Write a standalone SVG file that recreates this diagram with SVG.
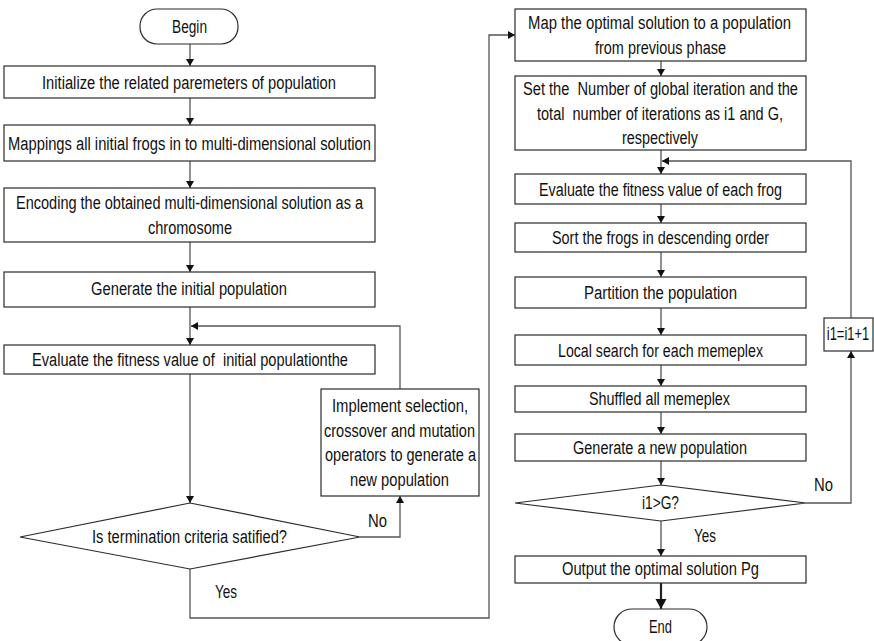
<svg xmlns="http://www.w3.org/2000/svg" width="874" height="641" viewBox="0 0 874 641">
  <defs>
    <style>
      .box { fill: #ffffff; stroke: #2b2b2b; stroke-width: 1.2; }
      .conn { fill: none; stroke: #555555; stroke-width: 1.3; }
      .thick { fill: none; stroke: #222222; stroke-width: 2.2; }
      text { font-family: "Liberation Sans", Arial, sans-serif; font-size: 18px; fill: #111111; text-anchor: middle; }
      .lbl { text-anchor: start; }
    </style>
    <marker id="arr" markerUnits="userSpaceOnUse" markerWidth="10" markerHeight="10" refX="7" refY="4" orient="auto">
      <path d="M0,0 L7,4 L0,8 Z" fill="#111111"/>
    </marker>
    <marker id="arrBig" markerUnits="userSpaceOnUse" markerWidth="14" markerHeight="14" refX="10" refY="5.5" orient="auto">
      <path d="M0,0 L10,5.5 L0,11 Z" fill="#111111"/>
    </marker>
  </defs>

  <!-- connectors -->
  <g id="connectors">
    <path class="conn" d="M190,44 V66" marker-end="url(#arr)"/>
    <path class="conn" d="M190,98 V125" marker-end="url(#arr)"/>
    <path class="conn" d="M190,161 V188" marker-end="url(#arr)"/>
    <path class="conn" d="M190,242 V272" marker-end="url(#arr)"/>
    <path class="conn" d="M190,307 V345" marker-end="url(#arr)"/>
    <path class="conn" d="M400,389 V326 H191" marker-end="url(#arr)"/>
    <path class="conn" d="M190,374 V503" marker-end="url(#arr)"/>
    <path class="conn" d="M360,537 H400 V496" marker-end="url(#arr)"/>
    <path class="conn" d="M190,569 V618 H489 V35 H515" marker-end="url(#arr)"/>

    <path class="conn" d="M661,61 V76" marker-end="url(#arr)"/>
    <path class="conn" d="M661,150 V174" marker-end="url(#arr)"/>
    <path class="conn" d="M851,318 V161 H662" marker-end="url(#arr)"/>
    <path class="conn" d="M661,204 V223" marker-end="url(#arr)"/>
    <path class="conn" d="M661,252 V277" marker-end="url(#arr)"/>
    <path class="conn" d="M661,308 V335" marker-end="url(#arr)"/>
    <path class="conn" d="M661,365 V386" marker-end="url(#arr)"/>
    <path class="conn" d="M661,412 V434" marker-end="url(#arr)"/>
    <path class="conn" d="M661,461 V485" marker-end="url(#arr)"/>
    <path class="conn" d="M661,521 V556" marker-end="url(#arr)"/>
    <path class="conn" d="M806,503 H851 V351" marker-end="url(#arr)"/>
    <path class="thick" d="M661,583 V609" marker-end="url(#arrBig)"/>

    <text class="lbl" x="368" y="527" textLength="19" lengthAdjust="spacingAndGlyphs">No</text>
    <text class="lbl" x="215" y="598" textLength="22" lengthAdjust="spacingAndGlyphs">Yes</text>
    <text class="lbl" x="814" y="491" textLength="19" lengthAdjust="spacingAndGlyphs">No</text>
    <text class="lbl" x="694" y="542" textLength="22" lengthAdjust="spacingAndGlyphs">Yes</text>
  </g>

  <!-- left column: GA phase -->
  <g id="begin">
    <rect class="box" x="140" y="9" width="98" height="35" rx="17" ry="17"/>
    <text x="189.5" y="33" textLength="35" lengthAdjust="spacingAndGlyphs">Begin</text>
  </g>
  <g id="init-params">
    <rect class="box" x="4" y="66" width="371" height="32"/>
    <text x="189" y="89" textLength="294" lengthAdjust="spacingAndGlyphs">Initialize the related paremeters of population</text>
  </g>
  <g id="map-frogs">
    <rect class="box" x="4" y="125" width="371" height="36"/>
    <text x="189.5" y="149.5" textLength="363" lengthAdjust="spacingAndGlyphs">Mappings all initial frogs in to multi-dimensional solution</text>
  </g>
  <g id="encode">
    <rect class="box" x="4" y="188" width="371" height="54"/>
    <text x="189.5" y="209" textLength="347" lengthAdjust="spacingAndGlyphs">Encoding the obtained multi-dimensional solution as a</text>
    <text x="190" y="234" textLength="84" lengthAdjust="spacingAndGlyphs">chromosome</text>
  </g>
  <g id="gen-initial">
    <rect class="box" x="4" y="272" width="371" height="35"/>
    <text x="189" y="295" textLength="196" lengthAdjust="spacingAndGlyphs">Generate the initial population</text>
  </g>
  <g id="eval-initial">
    <rect class="box" x="4" y="345" width="371" height="29"/>
    <text x="190" y="366" textLength="316" lengthAdjust="spacingAndGlyphs" xml:space="preserve">Evaluate the fitness value of  initial populationthe</text>
  </g>
  <g id="termination">
    <polygon class="box" points="190,503 360,537 190,569 20,537"/>
    <text x="189.5" y="543" textLength="195" lengthAdjust="spacingAndGlyphs">Is termination criteria satified?</text>
  </g>
  <g id="ga-operators">
    <rect class="box" x="321" y="389" width="158" height="107"/>
    <text x="400" y="412" textLength="136" lengthAdjust="spacingAndGlyphs">Implement selection,</text>
    <text x="399.5" y="437" textLength="151" lengthAdjust="spacingAndGlyphs">crossover and mutation</text>
    <text x="400.5" y="461" textLength="151" lengthAdjust="spacingAndGlyphs">operators to generate a</text>
    <text x="399.5" y="486" textLength="99" lengthAdjust="spacingAndGlyphs">new population</text>
  </g>

  <!-- right column: SFLA phase -->
  <g id="map-optimal">
    <rect class="box" x="515" y="9" width="291" height="52"/>
    <text x="659.5" y="29" textLength="263" lengthAdjust="spacingAndGlyphs">Map the optimal solution to a population</text>
    <text x="660.5" y="54" textLength="131" lengthAdjust="spacingAndGlyphs">from previous phase</text>
  </g>
  <g id="set-iterations">
    <rect class="box" x="515" y="76" width="291" height="74"/>
    <text x="660.5" y="95" textLength="275" lengthAdjust="spacingAndGlyphs" xml:space="preserve">Set the  Number of global iteration and the</text>
    <text x="660" y="120" textLength="246" lengthAdjust="spacingAndGlyphs" xml:space="preserve">total  number of iterations as i1 and G,</text>
    <text x="660" y="144" textLength="76" lengthAdjust="spacingAndGlyphs">respectively</text>
  </g>
  <g id="eval-frogs">
    <rect class="box" x="515" y="174" width="291" height="30"/>
    <text x="660.5" y="196" textLength="243" lengthAdjust="spacingAndGlyphs">Evaluate the fitness value of each frog</text>
  </g>
  <g id="sort-frogs">
    <rect class="box" x="515" y="223" width="291" height="29"/>
    <text x="660.5" y="244" textLength="217" lengthAdjust="spacingAndGlyphs">Sort the frogs in descending order</text>
  </g>
  <g id="partition">
    <rect class="box" x="515" y="277" width="291" height="31"/>
    <text x="660.5" y="299" textLength="153" lengthAdjust="spacingAndGlyphs">Partition the population</text>
  </g>
  <g id="local-search">
    <rect class="box" x="515" y="335" width="291" height="30"/>
    <text x="660.5" y="357" textLength="205" lengthAdjust="spacingAndGlyphs">Local search for each memeplex</text>
  </g>
  <g id="shuffle">
    <rect class="box" x="515" y="386" width="291" height="26"/>
    <text x="659.5" y="405" textLength="141" lengthAdjust="spacingAndGlyphs">Shuffled all memeplex</text>
  </g>
  <g id="gen-new">
    <rect class="box" x="515" y="434" width="291" height="27"/>
    <text x="660" y="454" textLength="174" lengthAdjust="spacingAndGlyphs">Generate a new population</text>
  </g>
  <g id="check-g">
    <polygon class="box" points="661,485 806,503 661,521 515,503"/>
    <text x="660.5" y="509" textLength="37" lengthAdjust="spacingAndGlyphs">i1&gt;G?</text>
  </g>
  <g id="increment">
    <rect class="box" x="824" y="318" width="49" height="33"/>
    <text transform="translate(848 340) scale(0.72 1)" x="0" y="0">i1=i1+1</text>
  </g>
  <g id="output">
    <rect class="box" x="515" y="556" width="291" height="27"/>
    <text x="660.5" y="575" textLength="197" lengthAdjust="spacingAndGlyphs">Output the optimal solution Pg</text>
  </g>
  <g id="end">
    <rect class="box" x="614" y="609" width="93" height="36" rx="18" ry="18"/>
    <text x="660.5" y="633" textLength="23" lengthAdjust="spacingAndGlyphs">End</text>
  </g>
</svg>
